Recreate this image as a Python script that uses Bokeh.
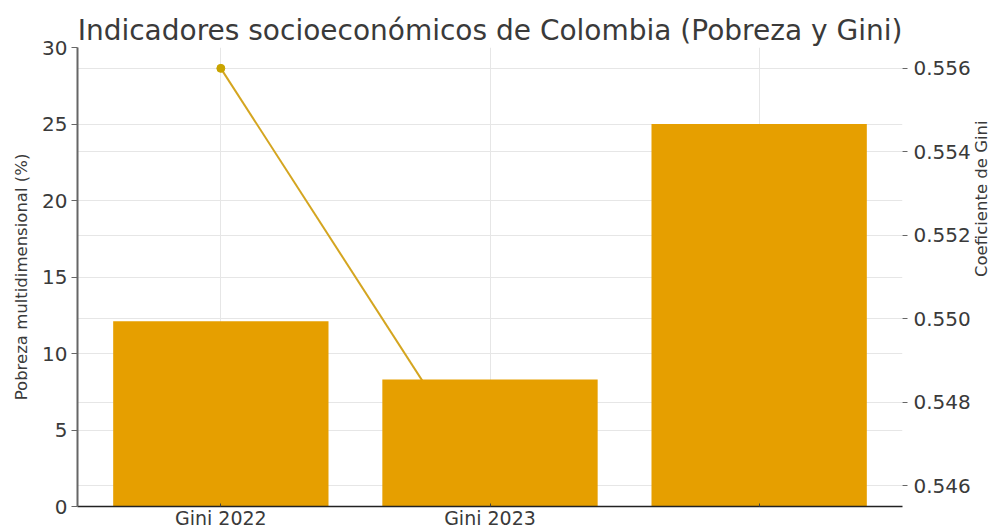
import math
from bokeh.plotting import figure
from bokeh.models import FactorRange, Range1d, LinearAxis, Grid, PrintfTickFormatter
from bokeh.embed import file_html
from bokeh.resources import INLINE

# ---- data ----
categories = ["Gini 2022", "Gini 2023", " "]
pobreza = [12.1, 8.3, 25.0]
gini_years = ["Gini 2022", "Gini 2023"]
gini_values = [0.556, 0.546]
left_ticks = [0, 5, 10, 15, 20, 25, 30]
right_ticks = [0.546, 0.548, 0.550, 0.552, 0.554, 0.556]

FONT = "DejaVu Sans"
BAR = "#E69F00"
LINE = "#D4A520"
TXT = "#3a3a3a"

p = figure(
    x_range=FactorRange(factors=categories, range_padding=0.0217, range_padding_units="percent"),
    y_range=Range1d(0, 30),
    width=1003, height=531,
    output_backend="svg", toolbar_location=None,
    min_border_left=77, min_border_right=97, min_border_top=47, min_border_bottom=21,
)
p.extra_y_ranges = {"gini": Range1d(0.5455, 0.5565)}

# title
p.title.text = "Indicadores socioeconómicos de Colombia (Pobreza y Gini)"
p.title.align = "center"
p.title.text_font = FONT
p.title.text_font_size = "28px"
p.title.text_font_style = "normal"
p.title.text_color = TXT
p.title.standoff = 2

p.outline_line_color = None
p.background_fill_color = "white"

# line first (bars drawn over it)
p.line(gini_years, gini_values, y_range_name="gini", line_color=LINE, line_width=2)
p.scatter(gini_years, gini_values, y_range_name="gini", size=8, fill_color="#C9A400", line_color="#C9A400")

# bars
p.vbar(x=categories, top=pobreza, width=0.8, fill_color=BAR, line_color=None)

# left axis
ya = p.yaxis[0]
ya.ticker = left_ticks
ya.axis_label = "Pobreza multidimensional (%)"
ya.axis_label_text_font = FONT
ya.axis_label_text_font_size = "16.5px"
ya.axis_label_text_font_style = "normal"
ya.axis_label_text_color = TXT
ya.axis_label_standoff = 8
ya.major_label_text_font = FONT
ya.major_label_text_font_size = "20px"
ya.major_label_text_color = TXT
ya.major_label_standoff = 4
ya.axis_line_color = "#666666"
ya.axis_line_width = 2
ya.major_tick_line_color = "#666666"
ya.major_tick_out = 6
ya.major_tick_in = 0
ya.minor_tick_line_color = None

# right axis
ra = LinearAxis(y_range_name="gini", axis_label="Coeficiente de Gini")
ra.ticker = right_ticks
ra.formatter = PrintfTickFormatter(format="%.3f")
ra.axis_label_orientation = math.pi / 2
ra.axis_label_text_font = FONT
ra.axis_label_text_font_size = "16.5px"
ra.axis_label_text_font_style = "normal"
ra.axis_label_text_color = TXT
ra.axis_label_standoff = 8
ra.major_label_text_font = FONT
ra.major_label_text_font_size = "20px"
ra.major_label_text_color = TXT
ra.major_label_standoff = 6
ra.axis_line_color = None
ra.major_tick_line_color = "#666666"
ra.major_tick_out = 5
ra.major_tick_in = 0
ra.minor_tick_line_color = None
p.add_layout(ra, "right")

# bottom axis
xa = p.xaxis[0]
xa.major_label_text_font = FONT
xa.major_label_text_font_size = "19px"
xa.major_label_text_color = TXT
xa.major_label_standoff = 0
xa.axis_line_color = "#222222"
xa.axis_line_width = 1.5
xa.major_tick_line_color = "#444444"
xa.major_tick_in = 3
xa.major_tick_out = 0

# grids
p.xgrid.grid_line_color = "#e6e6e6"
p.ygrid.grid_line_color = "#e6e6e6"
p.ygrid.ticker = ya.ticker
rgrid = Grid(dimension=1, axis=ra, ticker=ra.ticker, y_range_name="gini", grid_line_color="#e6e6e6")
p.add_layout(rgrid)

open("out.html", "w").write(file_html(p, INLINE))
